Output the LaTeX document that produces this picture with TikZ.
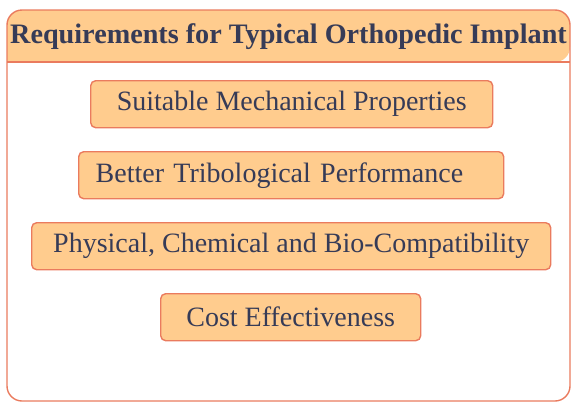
\documentclass[tikz,border=0pt]{standalone}
\usepackage{fontspec}
\setmainfont{Liberation Serif}
\usepackage{tikz}

\definecolor{peach}{HTML}{FFCC8E}
\definecolor{coral}{HTML}{EA7B5E}
\definecolor{inkblue}{HTML}{363B57}

\begin{document}
\begin{tikzpicture}[x=1pt, y=-1pt,
    reqbox/.style={draw=coral, line width=1.4pt, fill=peach, rounded corners=5pt,
        anchor=north west, minimum height=47pt, inner sep=0pt,
        text=inkblue, font=\fontsize{28}{32}\selectfont}]

    % constants
    \def\frameL{7}
    \def\frameR{570}
    \def\frameT{10}
    \def\frameB{401}
    \def\headB{62}

    \useasboundingbox (0,0) rectangle (573,402);

    % outer frame and header band
    \fill[peach, rounded corners=15pt] (\frameL,\headB) -- (\frameL,\frameT) -- (\frameR,\frameT) -- (\frameR,\headB) [sharp corners] -- cycle;
    \draw[coral, line width=1.4pt, rounded corners=15pt] (\frameL,\frameT) rectangle (\frameR,\frameB);
    \draw[coral, line width=1.4pt] (\frameL,\headB) -- (\frameR,\headB);

    \node (title) at (288.5,37) [text=inkblue, font=\fontsize{28.2}{32}\selectfont\bfseries] {Requirements for Typical Orthopedic Implant};

    % requirement boxes
    \node (mech) at (90,80) [reqbox, minimum width=402pt] {Suitable Mechanical Properties};
    \node (tribo) at (78,151) [reqbox, minimum width=425pt, inner xsep=17pt, text width=391pt, align=left] {Better Tribological Performance};
    \node (biocomp) at (31,222) [reqbox, minimum width=519pt] {Physical, Chemical and Bio-Compatibility};
    \node (cost) at (160,293) [reqbox, minimum width=260pt] {Cost Effectiveness};

\end{tikzpicture}
\end{document}
